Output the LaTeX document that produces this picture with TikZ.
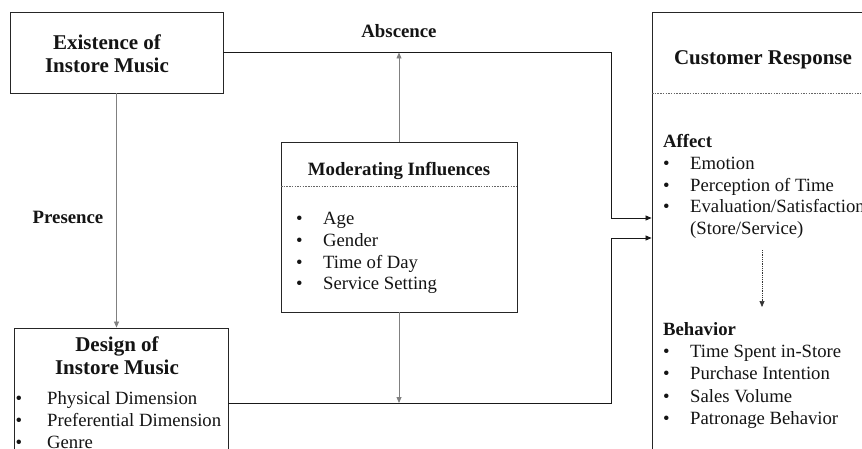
\documentclass[tikz,border=0pt]{standalone}
\usepackage{fontspec}
\setmainfont{Liberation Serif}
\usetikzlibrary{arrows.meta}
\newcommand{\mybul}[1]{\makebox[#1][l]{\textbullet}}
\begin{document}
\begin{tikzpicture}[x=1pt,y=-1pt,
  box/.style={draw=black!85, line width=0.9pt, inner sep=0pt},
  conn/.style={line width=0.8pt, draw=black!90},
  gconn/.style={line width=0.8pt, draw=black!50},
  tip/.style={-{Triangle[length=6pt,width=5pt]}},
  sepline/.style={line width=0.6pt, draw=black!60, dash pattern=on 1.5pt off 1.2pt},
  bigtitle/.style={font=\fontsize{21}{23.5}\selectfont\bfseries, align=center, text=black!92, inner sep=0pt},
  midtitle/.style={font=\fontsize{18.8}{22}\selectfont\bfseries, align=center, text=black!92, inner sep=0pt},
  body/.style={font=\fontsize{18.7}{21.8}\selectfont, align=left, anchor=west, inner sep=0pt, text=black!92},
]
\useasboundingbox (0,0) rectangle (862,449);
\clip (0,0) rectangle (862,449);
\fill[white] (0,0) rectangle (862,449);

% boxes
\node[box, minimum width=213pt, minimum height=81pt] (exist) at (116.5,52.5) {};
\node[bigtitle] (existT) at (107,53.5) {Existence of\\Instore Music};

\node[box, minimum width=222pt, minimum height=458pt] (cust) at (763,241) {};
\node[bigtitle] (custT) at (763,60) {Customer Response};
\coordinate (cdl) at (652,93);
\draw[sepline] (cdl) -- (cdl -| cust.east);

\node[box, minimum width=236pt, minimum height=170pt] (mod) at (399,227) {};
\node[midtitle] (modT) at (399,171) {Moderating Influences};
\coordinate (mdl) at (281,186);
\draw[sepline] (mdl) -- (mdl -| mod.east);

\node[box, minimum width=214pt, minimum height=142pt] (design) at (121,399) {};
\node[bigtitle] (designT) at (117,355.5) {Design of\\Instore Music};

% lists
\node[body] (modL) at (296,253) {\mybul{27pt}Age\\\mybul{27pt}Gender\\\mybul{27pt}Time of Day\\\mybul{27pt}Service Setting};
\node[body] (aff) at (663,186.5) {\textbf{Affect}\\\mybul{27pt}Emotion\\\mybul{27pt}Perception of Time\\\mybul{27pt}Evaluation/Satisfaction\\\hspace*{27pt}(Store/Service)};
\node[body, font=\fontsize{18.7}{22.2}\selectfont] (beh) at (663,375.5) {\textbf{Behavior}\\\mybul{27pt}Time Spent in-Store\\\mybul{27pt}Purchase Intention\\\mybul{27pt}Sales Volume\\\mybul{27pt}Patronage Behavior};
\node[body] (desL) at (15.5,420) {\mybul{31.5pt}Physical Dimension\\\mybul{31.5pt}Preferential Dimension\\\mybul{31.5pt}Genre};

% labels
\node[midtitle] (pres) at (68,217) {Presence};
\node[midtitle] (absc) at (399,31) {Abscence};

% connectors
\coordinate (c1) at (611,218);
\coordinate (j) at (611,403);
\coordinate (k) at (611,238);
\draw[conn, tip] (exist.east) -| (c1) -- (c1 -| cust.west);
\draw[conn, tip] (j -| design.east) -- (j) -- (k) -- (k -| cust.west);
\draw[gconn, tip] (exist.south) -- (exist.south |- design.north);
\draw[gconn, tip] (mod.north) -- (mod.north |- exist.east);
\draw[gconn, tip] (mod.south) -- (mod.south |- j);
\coordinate (d1) at (762,250);
\coordinate (d2) at (762,307);
\draw[line width=0.7pt, draw=black!80, dash pattern=on 1pt off 0.8pt, -{Triangle[length=6pt,width=5pt]}] (d1) -- (d2);
\end{tikzpicture}
\end{document}
